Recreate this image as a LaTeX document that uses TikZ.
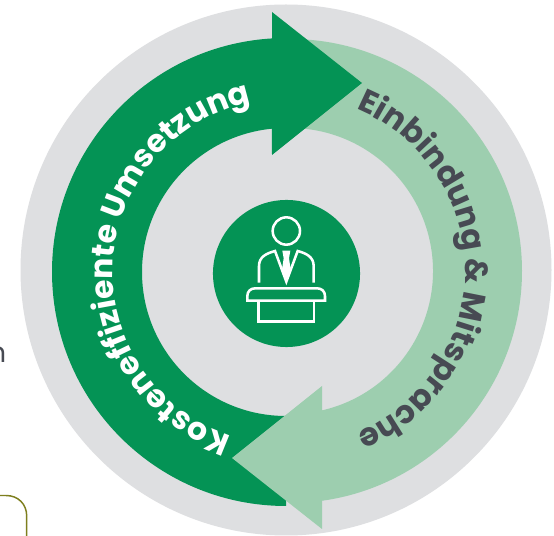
\documentclass[tikz,border=0pt]{standalone}
\usepackage{fontspec}
\setmainfont{Poppins}
\usetikzlibrary{decorations.text}
\definecolor{ringgrey}{HTML}{DEDFE1}
\definecolor{dgreen}{HTML}{049355}
\definecolor{lgreen}{HTML}{9DCEAF}
\definecolor{slate}{HTML}{474A53}
\definecolor{olive}{HTML}{7E7F1E}
\tikzset{
  icon/.style={draw=white,line width=1.9pt,fill=none},
}
\begin{document}
\begin{tikzpicture}[x=.75pt,y=.75pt]
\useasboundingbox (0,0) rectangle (554,536);
\clip (0,0) rectangle (554,536);
\fill[white] (0,0) rectangle (554,536);
\node[anchor=base east,inner sep=0pt,text=slate,font=\fontsize{21}{21}\selectfont] (cut) at (6.5,173) {n};
\draw[olive,line width=1.1pt] (-10,40.5) -- (6,40.5) .. controls (18,40.5) and (26.7,32) .. (26.7,20) -- (26.7,-5);
\fill[ringgrey] (286,266) circle[radius=265.5];
\begin{scope}[shift={(290,265)}]
  \fill[lgreen] (90:232) arc[start angle=90,end angle=-83.1,radius=232] -- (-78.7:143) arc[start angle=-78.7,end angle=90,radius=143] -- cycle;
  \path[decorate,decoration={text along path,text align=center,text color=slate,text={|\fontsize{24}{24}\selectfont\bfseries|Einbindung {\&} Mitsprache}}] (91:175) arc[start angle=91,end angle=-91,radius=175];
\end{scope}
\begin{scope}[shift={(286,264)}]
  \fill[dgreen] (93.4:234) arc[start angle=93.4,end angle=270,radius=234] -- (270:144) arc[start angle=270,end angle=95.6,radius=144]
     -- (-14,117) -- (76,189) -- (-14,260) -- cycle;
  \fill[lgreen] (36,-114) -- (-54,-186) -- (36,-257) -- cycle;
  \path[decorate,decoration={text along path,text align=center,text color=white,text={|\fontsize{23.6}{23.6}\selectfont\bfseries|Kosteneffiziente Umsetzung}}] (266.5:173) arc[start angle=266.5,end angle=86.5,radius=173];
\end{scope}
\node[circle,fill=dgreen,minimum size=110.3pt,inner sep=0pt] (hub) at (286.5,262.5) {};
\begin{scope}[shift={(200,346)},x=.25pt,y=-.25pt]
  \draw[icon] (259,123) circle[radius=41];
  \draw[icon] (177,278) -- (177,228) .. controls (177,200) and (200,190) .. (225,183) -- (259,275) -- (293,183) .. controls (318,190) and (341,200) .. (341,228) -- (341,278);
  \fill[white] (247,182) -- (271,182) -- (267,205) -- (272,238) -- (259,280) -- (246,238) -- (251,205) -- cycle;
  \draw[icon] (142,332) -- (142,318) .. controls (142,304) and (152,295) .. (165,295) -- (352,295) .. controls (365,295) and (375,304) .. (375,318) -- (375,332) -- cycle;
  \draw[icon] (175,332) -- (175,395) -- (342,395) -- (342,332);
\end{scope}
\end{tikzpicture}
\end{document}
